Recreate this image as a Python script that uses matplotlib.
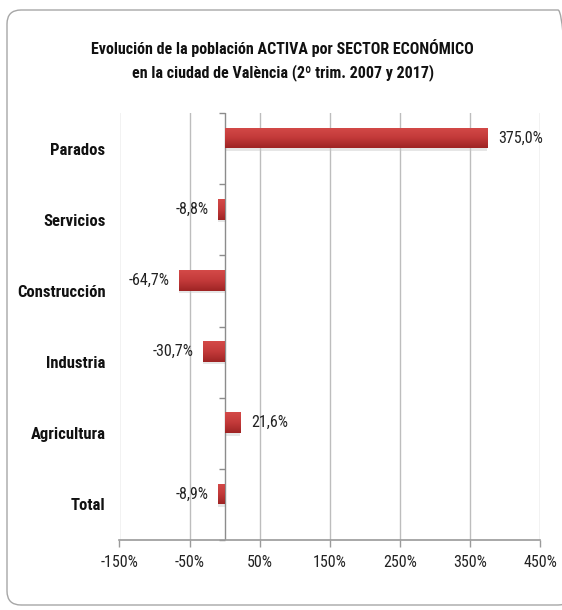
import numpy as np
import matplotlib
matplotlib.use("Agg")
import matplotlib.pyplot as plt
from matplotlib import font_manager, markers
from matplotlib.patches import FancyBboxPatch
from matplotlib.colors import LinearSegmentedColormap

categories = ["Parados", "Servicios", "Construcción", "Industria", "Agricultura", "Total"]
values = [375.0, -8.8, -64.7, -30.7, 21.6, -8.9]
value_labels = ["375,0%", "-8,8%", "-64,7%", "-30,7%", "21,6%", "-8,9%"]
xticks = [-150, -50, 50, 150, 250, 350, 450]
xtick_labels = ["-150%", "-50%", "50%", "150%", "250%", "350%", "450%"]
title = "Evolución de la población ACTIVA por SECTOR ECONÓMICO\nen la ciudad de València (2º trim. 2007 y 2017)"

avail = {f.name for f in font_manager.fontManager.ttflist}
fam = None
for cand in ["Liberation Sans Narrow", "Roboto Condensed", "Open Sans Condensed", "Lato", "Liberation Sans"]:
    if cand in avail:
        fam = cand
        break
plt.rcParams['font.family'] = [fam, 'DejaVu Sans'] if fam else ['DejaVu Sans']

W, H = 562, 610
fig = plt.figure(figsize=(W / 100, H / 100), dpi=100)
fig.patch.set_facecolor("white")

# rounded frame (inches); right edge falls just outside the image
frame = FancyBboxPatch((0.07, 0.05), 5.72 - 0.07, 6.00 - 0.05,
                       boxstyle="round,pad=0,rounding_size=0.14",
                       transform=fig.dpi_scale_trans, facecolor="none",
                       edgecolor="#a6a6a6", linewidth=1.0)
fig.patches.append(frame)

ax = fig.add_axes([119.5 / W, 1 - 540 / H, (540 - 119.5) / W, (540 - 113) / H])

n = len(categories)
pos = np.arange(n)
offset = -0.147
bh = 0.29

# shadows
ax.barh(pos + offset + 0.035, values, height=bh, color="#c8c8c8", alpha=0.45, zorder=2)
bars = ax.barh(pos + offset, values, height=bh, color="#c0393b", zorder=3)

cmap = LinearSegmentedColormap.from_list("redg", ["#d44a48", "#c33a3a", "#9e2424"])
grad = np.linspace(0, 1, 64).reshape(-1, 1)
for b in bars:
    x0, y0 = b.get_x(), b.get_y()
    w, h = b.get_width(), b.get_height()
    im = ax.imshow(grad, cmap=cmap, aspect="auto",
                   extent=(min(x0, x0 + w), max(x0, x0 + w), y0 + h, y0),
                   zorder=4, interpolation="bilinear")
    im.set_clip_path(b)

for b, v, lab in zip(bars, values, value_labels):
    yc = b.get_y() + b.get_height() / 2
    if v >= 0:
        ax.annotate(lab, (v, yc), xytext=(8, 0), textcoords="offset points",
                    ha="left", va="center", fontsize=11.5, color="#222222")
    else:
        ax.annotate(lab, (v, yc), xytext=(-7, 0), textcoords="offset points",
                    ha="right", va="center", fontsize=11.5, color="#222222")

ax.set_xlim(xticks[0], xticks[-1])
ax.set_ylim(n - 0.5, -0.5)
ax.set_xticks(xticks)
ax.set_xticklabels(xtick_labels, fontsize=11.5, color="#222222")
ax.grid(axis="x", color="#bdbdbd", linewidth=1.0, zorder=0)
ax.set_axisbelow(True)

ax.set_yticks(pos)
ax.set_yticklabels(categories, fontsize=12, fontweight="bold", color="#111111")
ax.tick_params(axis="y", length=0, pad=10)
ax.tick_params(axis="x", length=5, color="#9a9a9a", width=1.0, pad=6)

for s in ["top", "right", "left"]:
    ax.spines[s].set_visible(False)
ax.spines["bottom"].set_color("#9a9a9a")
ax.spines["bottom"].set_linewidth(1.2)

# y axis line at zero with boundary ticks
ax.axvline(0, color="#8c8c8c", linewidth=1.0, zorder=2.5)
bounds = np.arange(n + 1) - 0.5
ax.plot(np.zeros(len(bounds)), bounds, linestyle="none", marker=markers.TICKLEFT,
        markersize=4, markeredgecolor="#8c8c8c", markeredgewidth=1.0, clip_on=False, zorder=2.5)

fig.text(0.503, 1 - 60 / H, title, ha="center", va="center", fontsize=11.5,
         fontweight="bold", color="#111111", linespacing=1.55)

fig.savefig("out.png", dpi=100)
